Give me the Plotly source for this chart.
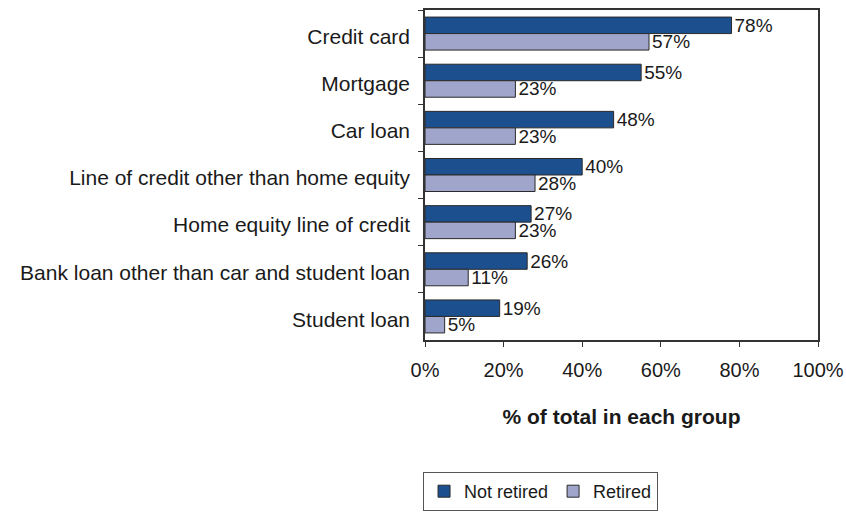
import plotly.graph_objects as go

# Debt types held, share of each group (%)
categories = [
    "Credit card",
    "Mortgage",
    "Car loan",
    "Line of credit other than home equity",
    "Home equity line of credit",
    "Bank loan other than car and student loan",
    "Student loan",
]
not_retired = [78, 55, 48, 40, 27, 26, 19]
retired = [57, 23, 23, 28, 23, 11, 5]
x_ticks = [0, 20, 40, 60, 80, 100]
x_tick_labels = ["0%", "20%", "40%", "60%", "80%", "100%"]

FONT = "Liberation Sans, Arial, sans-serif"
DARK = "#1c4f8e"
LIGHT = "#a0a5cb"
EDGE = "#2a2a2a"

fig = go.Figure()
for name, vals, color in [("Not retired", not_retired, DARK), ("Retired", retired, LIGHT)]:
    fig.add_trace(go.Bar(
        name=name,
        y=categories,
        x=vals,
        orientation="h",
        marker=dict(color=color, line=dict(color=EDGE, width=1)),
        text=[f"{v}%" for v in vals],
        textposition="outside",
        constraintext="none",
        cliponaxis=False,
        textfont=dict(family=FONT, size=19, color="#1a1a1a"),
    ))

fig.update_layout(
    width=846,
    height=512,
    margin=dict(l=425, r=28, t=10, b=172, autoexpand=False),
    paper_bgcolor="white",
    plot_bgcolor="white",
    barmode="group",
    bargap=0.3,
    bargroupgap=0,
    font=dict(family=FONT, color="#1a1a1a"),
    showlegend=True,
    legend=dict(
        orientation="h",
        x=-0.005,
        y=-0.40,
        xanchor="left",
        yanchor="top",
        bordercolor="#555555",
        borderwidth=1,
        font=dict(family=FONT, size=18, color="#1a1a1a"),
        itemwidth=30,
        traceorder="normal",
    ),
    xaxis=dict(
        range=[0, 100],
        tickvals=x_ticks,
        ticktext=x_tick_labels,
        ticks="outside",
        ticklen=5,
        tickcolor="#333333",
        showline=True,
        linecolor="#333333",
        linewidth=1.5,
        mirror=True,
        showgrid=False,
        zeroline=False,
        tickfont=dict(family=FONT, size=20, color="#1a1a1a"),
        ticklabelstandoff=6,
        title=dict(
            text="<b>% of total in each group</b>",
            font=dict(family=FONT, size=21, color="#1a1a1a"),
            standoff=30,
        ),
    ),
    yaxis=dict(
        autorange="reversed",
        ticks="outside",
        tickson="boundaries",
        ticklen=5,
        tickcolor="#333333",
        showline=True,
        linecolor="#333333",
        linewidth=1.5,
        mirror=True,
        showgrid=False,
        tickfont=dict(family=FONT, size=21, color="#1a1a1a"),
        ticklabelstandoff=9,
        ticklabelshift=-3,
    ),
)

fig.write_html("out.html")
